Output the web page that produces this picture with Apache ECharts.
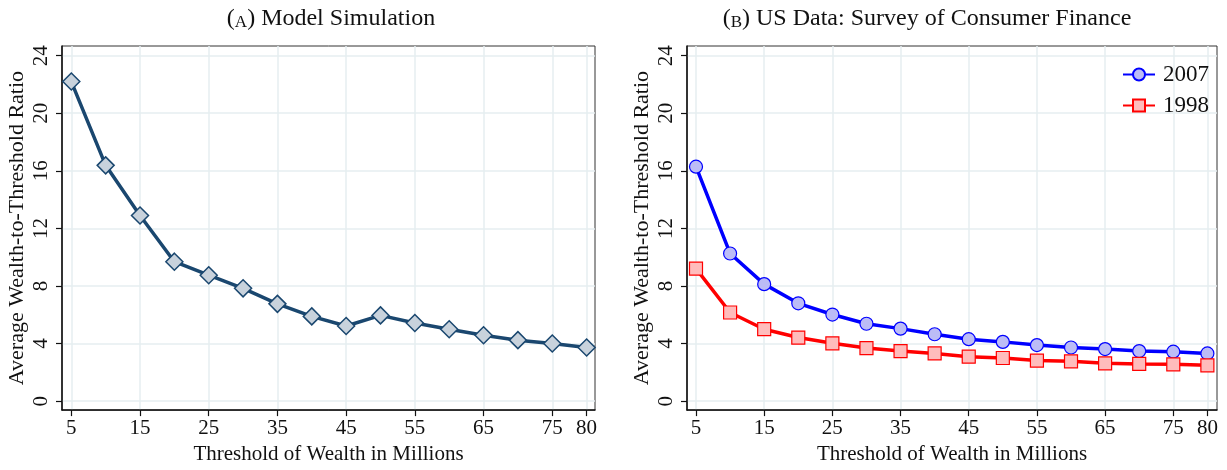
<!DOCTYPE html>
<html>
<head>
<meta charset="utf-8">
<script src="https://cdn.jsdelivr.net/npm/echarts@6/dist/echarts.min.js"></script>
<style>
html,body{margin:0;padding:0;background:#fff;}
#chart{width:1227px;height:470px;}
</style>
</head>
<body>
<div id="chart"></div>
<script>
// ---- data ----
var thresholds = [5, 10, 15, 20, 25, 30, 35, 40, 45, 50, 55, 60, 65, 70, 75, 80];
var modelSim = [22.2, 16.38, 12.9, 9.69, 8.75, 7.84, 6.76, 5.89, 5.22, 5.96, 5.43, 5.0, 4.58, 4.24, 4.01, 3.73];
var scf2007 = [16.29, 10.26, 8.13, 6.8, 6.02, 5.38, 5.04, 4.65, 4.31, 4.12, 3.9, 3.73, 3.62, 3.48, 3.44, 3.32];
var scf1998 = [9.21, 6.16, 5.0, 4.42, 4.02, 3.69, 3.48, 3.32, 3.09, 3.0, 2.82, 2.77, 2.63, 2.59, 2.56, 2.49];
var xTickValues = [5, 15, 25, 35, 45, 55, 65, 75, 80];
var yTickValues = [0, 4, 8, 12, 16, 20, 24];
var panelTitles = ['A', 'B'];
var panelTitleText = ['Model Simulation', 'US Data: Survey of Consumer Finance'];
var seriesNames = ['2007', '1998'];
var xAxisTitle = 'Threshold of Wealth in Millions';
var yAxisTitle = 'Average Wealth-to-Threshold Ratio';

function pairs(vals) { return thresholds.map(function (t, i) { return [t, vals[i]]; }); }

var FONT = "'Liberation Serif', 'Times New Roman', serif";
var gridColor = '#e6eef1';

function xAxisCfg(idx, min, max) {
  return {
    type: 'value', gridIndex: idx, min: min, max: max,
    name: xAxisTitle, nameLocation: 'middle', nameGap: 32,
    nameTextStyle: { fontFamily: FONT, fontSize: 21, color: '#111' },
    axisLine: { show: true, onZero: false, lineStyle: { color: '#111', width: 1.5 } },
    axisTick: { show: true, length: 6, customValues: xTickValues, lineStyle: { color: '#111', width: 1.2 } },
    axisLabel: { customValues: xTickValues, fontFamily: FONT, fontSize: 21, color: '#111', margin: 8 },
    splitLine: { show: true, customValues: xTickValues, lineStyle: { color: gridColor, width: 1.5 } }
  };
}
function yAxisCfg(idx) {
  return {
    type: 'value', gridIndex: idx, min: -0.618, max: 24.67,
    name: yAxisTitle, nameLocation: 'middle', nameGap: 34,
    nameTextStyle: { fontFamily: FONT, fontSize: 22, color: '#111' },
    axisLine: { show: true, onZero: false, lineStyle: { color: '#111', width: 1.5 } },
    axisTick: { show: true, length: 6, customValues: yTickValues, lineStyle: { color: '#111', width: 1.2 } },
    axisLabel: { customValues: yTickValues, rotate: 90, fontFamily: FONT, fontSize: 21, color: '#111', margin: 10 },
    splitLine: { show: true, customValues: yTickValues, lineStyle: { color: gridColor, width: 1.5 } }
  };
}

function titleCfg(i, cx) {
  return {
    text: '{p|(}{s|' + panelTitles[i] + '}{p|) ' + panelTitleText[i] + '}',
    left: cx, top: 2, textAlign: 'center',
    textStyle: {
      fontWeight: 'normal',
      rich: {
        p: { fontFamily: FONT, fontSize: 24, fontWeight: 'normal', color: '#111' },
        s: { fontFamily: FONT, fontSize: 17, fontWeight: 'normal', color: '#111', verticalAlign: 'bottom' }
      }
    }
  };
}

var chart = echarts.init(document.getElementById('chart'), null, { renderer: 'canvas' });
chart.setOption({
  backgroundColor: '#fff',
  animation: false,
  title: [titleCfg(0, 326), titleCfg(1, 922)],
  grid: [
    { left: 62, top: 46, width: 533, height: 368, show: true, borderColor: '#333', borderWidth: 1, backgroundColor: 'transparent' },
    { left: 687, top: 46, width: 530, height: 368, show: true, borderColor: '#333', borderWidth: 1, backgroundColor: 'transparent' }
  ],
  xAxis: [xAxisCfg(0, 3.646, 81.22), xAxisCfg(1, 3.68, 81.41)],
  yAxis: [yAxisCfg(0), yAxisCfg(1)],
  legend: {
    data: seriesNames, orient: 'vertical', left: 1117, top: 58,
    itemWidth: 32, itemHeight: 15, itemGap: 8,
    textStyle: { fontFamily: FONT, fontSize: 23, color: '#111', padding: [0, 0, 0, 3] }
  },
  series: [
    {
      name: 'Model', type: 'line', xAxisIndex: 0, yAxisIndex: 0, data: pairs(modelSim),
      symbol: 'diamond', symbolSize: 17,
      lineStyle: { color: '#1a476f', width: 3.5 },
      itemStyle: { color: '#c8d2dc', borderColor: '#1a476f', borderWidth: 1.5 }
    },
    {
      name: seriesNames[0], type: 'line', xAxisIndex: 1, yAxisIndex: 1, data: pairs(scf2007),
      symbol: 'circle', symbolSize: 13,
      lineStyle: { color: '#0000ff', width: 3.5 },
      itemStyle: { color: '#bcbcf6', borderColor: '#0000ff', borderWidth: 1.2 }
    },
    {
      name: seriesNames[1], type: 'line', xAxisIndex: 1, yAxisIndex: 1, data: pairs(scf1998),
      symbol: 'rect', symbolSize: 13,
      lineStyle: { color: '#ff0000', width: 3.5 },
      itemStyle: { color: '#ffbcbc', borderColor: '#ff0000', borderWidth: 1.2 }
    }
  ]
});
</script>
</body>
</html>
